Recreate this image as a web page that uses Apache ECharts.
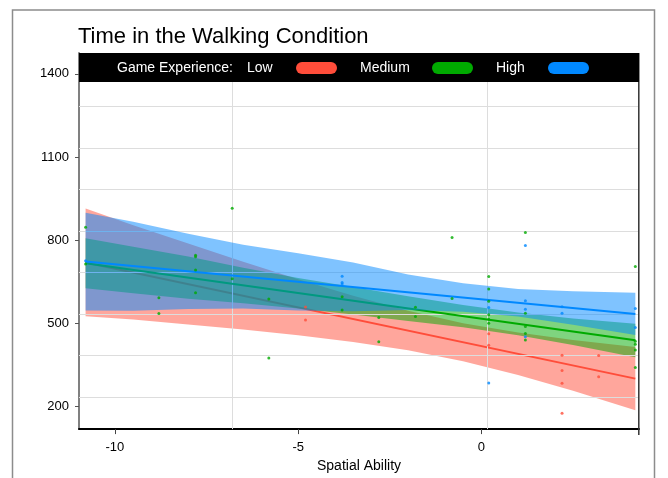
<!DOCTYPE html>
<html>
<head>
<meta charset="utf-8">
<script src="https://cdn.jsdelivr.net/npm/echarts@6/dist/echarts.min.js"></script>
<style>
html,body{margin:0;padding:0;background:#fff;}
#chart{width:668px;height:478px;}
</style>
</head>
<body>
<div id="chart"></div>
<script>
// ---- data ----
const titleText = 'Time in the Walking Condition';
const xAxisName = 'Spatial Ability';
const legendTitle = 'Game Experience:';
const groups = ['Low', 'Medium', 'High'];
const colors = ['#FF4D3A', '#00AA00', '#0088FF'];
const bandFills = ['rgba(255,77,58,0.5)', 'rgba(0,170,0,0.5)', 'rgba(0,136,255,0.5)'];

const xTicks = [-10, -5, 0];
const yTicks = [200, 500, 800, 1100, 1400];
const gridY = [1282, 1132, 983, 833, 684, 534, 385, 235];
const gridX = [-6.8, 0.15];

// confidence band edges (x positions shared)
const bandX     = [-10.8, -9.5, -8, -6.5, -5, -3.5, -2, -0.5, 1, 2.5, 4.2];
const lowUpper  = [914, 854, 788, 722, 659, 600, 546, 501, 467, 440, 415];
const lowLower  = [526, 514, 496, 478, 457, 433, 403, 364, 314, 257, 187];
const medUpper  = [807, 776, 741, 701, 664, 631, 598, 566, 539, 518, 499];
const medLower  = [627, 609, 589, 573, 554, 532, 509, 486, 457, 422, 378];
const highUpper = [899, 867, 823, 784, 753, 720, 676, 645, 624, 616, 611];
const highLower = [547, 546, 552, 554, 547, 544, 548, 542, 525, 495, 458];

// fitted lines
const fitX    = [-10.8, 4.2];
const lowFit  = [720, 301];
const medFit  = [717, 439];
const highFit = [723, 534];

// observed points
const lowPts = [[-4.8,512],[-4.8,559],[0.2,463],[0.2,421],[2.2,385],[2.2,330],[2.2,284],[2.2,176],[3.2,384],[3.2,308]];
const medPts = [[-10.8,847],[-10.8,714],[-8.8,593],[-8.8,536],[-7.8,746],[-7.8,740],[-7.8,693],[-7.8,611],
  [-6.8,915],[-6.8,661],[-5.8,588],[-5.8,375],[-3.8,596],[-3.8,548],[-2.8,521],[-2.8,434],[-1.8,558],[-1.8,525],
  [-0.8,810],[-0.8,590],[0.2,669],[0.2,624],[0.2,580],[0.2,531],[0.2,515],[0.2,501],
  [1.2,828],[1.2,537],[1.2,489],[1.2,464],[1.2,440],[4.2,705],[4.2,436],[4.2,425],[4.2,404],[4.2,341]];
const highPts = [[-10.8,726],[-3.8,670],[-3.8,648],[-3.8,642],[0.2,557],[0.2,285],[1.2,781],[1.2,582],[1.2,551],
  [1.2,452],[2.2,560],[2.2,537],[4.2,554],[4.2,485]];

const bands = [[lowUpper, lowLower], [medUpper, medLower], [highUpper, highLower]];
const fits = [lowFit, medFit, highFit];
const pts = [lowPts, medPts, highPts];

const FONT = 'Liberation Sans, Arial, Helvetica, sans-serif';
const chart = echarts.init(document.getElementById('chart'), null, {renderer: 'canvas'});

function bandSeries(gi, z) {
  const up = bands[gi][0], lo = bands[gi][1];
  return {
    type: 'custom', name: groups[gi] + ' band', z: z, silent: true, clip: true,
    data: [[bandX[0], lo[0]]],
    renderItem: function (params, api) {
      const p = [];
      for (let i = 0; i < bandX.length; i++) p.push(api.coord([bandX[i], up[i]]));
      for (let i = bandX.length - 1; i >= 0; i--) p.push(api.coord([bandX[i], lo[i]]));
      return {type: 'polygon', shape: {points: p}, style: {fill: bandFills[gi], stroke: null}};
    }
  };
}
function lineSeries(gi, z) {
  return {
    type: 'line', name: groups[gi], z: z, silent: true, showSymbol: false, clip: true,
    data: fitX.map((x, i) => [x, fits[gi][i]]),
    lineStyle: {color: colors[gi], width: 2}
  };
}
function pointSeries(gi, z) {
  return {
    type: 'scatter', name: groups[gi] + ' points', z: z, silent: true,
    symbol: 'circle', symbolSize: 3,
    data: pts[gi], itemStyle: {color: colors[gi]}
  };
}

const series = [
  {
    type: 'line', name: 'grid', z: 1, data: [], silent: true,
    markLine: {
      silent: true, symbol: 'none', label: {show: false}, animation: false,
      lineStyle: {color: '#dddddd', width: 1, type: 'solid'},
      data: gridY.map(v => ({yAxis: v})).concat(gridX.map(v => ({xAxis: v})))
    }
  },
  bandSeries(0, 2), lineSeries(0, 3),
  bandSeries(1, 4), lineSeries(1, 5),
  bandSeries(2, 6), lineSeries(2, 7),
  pointSeries(0, 8), pointSeries(1, 8), pointSeries(2, 8)
];

// legend bar (drawn as graphic)
const legendTextX = [247, 360, 496];
const legendPillX = [296, 432, 548];
const graphic = [
  {type: 'rect', z: 0, silent: true, shape: {x: 12.5, y: 10, width: 642, height: 520},
   style: {fill: null, stroke: '#8c8c8c', lineWidth: 1.5}},
  {type: 'line', z: 50, silent: true, shape: {x1: 638.8, y1: 53, x2: 638.8, y2: 435},
   style: {stroke: '#333', lineWidth: 1.5}},
  {type: 'rect', z: 100, silent: true, shape: {x: 79, y: 53, width: 560, height: 29}, style: {fill: '#000'}},
  {type: 'text', z: 101, silent: true, x: 117, y: 68,
   style: {text: legendTitle, fill: '#fff', font: '14px ' + FONT, textVerticalAlign: 'middle'}}
];
groups.forEach((g, i) => {
  graphic.push({type: 'text', z: 101, silent: true, x: legendTextX[i], y: 68,
    style: {text: g, fill: '#fff', font: '14px ' + FONT, textVerticalAlign: 'middle'}});
  graphic.push({type: 'rect', z: 101, silent: true,
    shape: {x: legendPillX[i], y: 62, width: 41, height: 12, r: 6}, style: {fill: colors[i]}});
});

chart.setOption({
  animation: false,
  backgroundColor: '#fff',
  title: {
    text: titleText, left: 78, top: 26, padding: 0,
    textStyle: {fontFamily: FONT, fontSize: 22, fontWeight: 'normal', color: '#000'}
  },
  grid: {left: 79, right: 29, top: 53, bottom: 44, containLabel: false},
  xAxis: {
    type: 'value', min: -10.98, max: 4.3,
    name: xAxisName, nameLocation: 'middle', nameGap: 29,
    nameTextStyle: {fontFamily: FONT, fontSize: 14, color: '#000'},
    axisLine: {show: true, onZero: false, lineStyle: {color: '#000', width: 2}},
    axisTick: {show: true, customValues: xTicks, length: 5, lineStyle: {color: '#444'}},
    axisLabel: {customValues: xTicks, fontFamily: FONT, fontSize: 13, color: '#000', margin: 12,
                formatter: v => String(v)},
    splitLine: {show: false}
  },
  yAxis: {
    type: 'value', min: 119, max: 1475,
    axisLine: {show: true, onZero: false, lineStyle: {color: '#808080', width: 2}},
    axisTick: {show: true, customValues: yTicks, length: 4, lineStyle: {color: '#555'}},
    axisLabel: {customValues: yTicks, fontFamily: FONT, fontSize: 13, color: '#000', margin: 10,
                formatter: v => String(v)},
    splitLine: {show: false}
  },
  graphic: graphic,
  series: series
});
</script>
</body>
</html>
